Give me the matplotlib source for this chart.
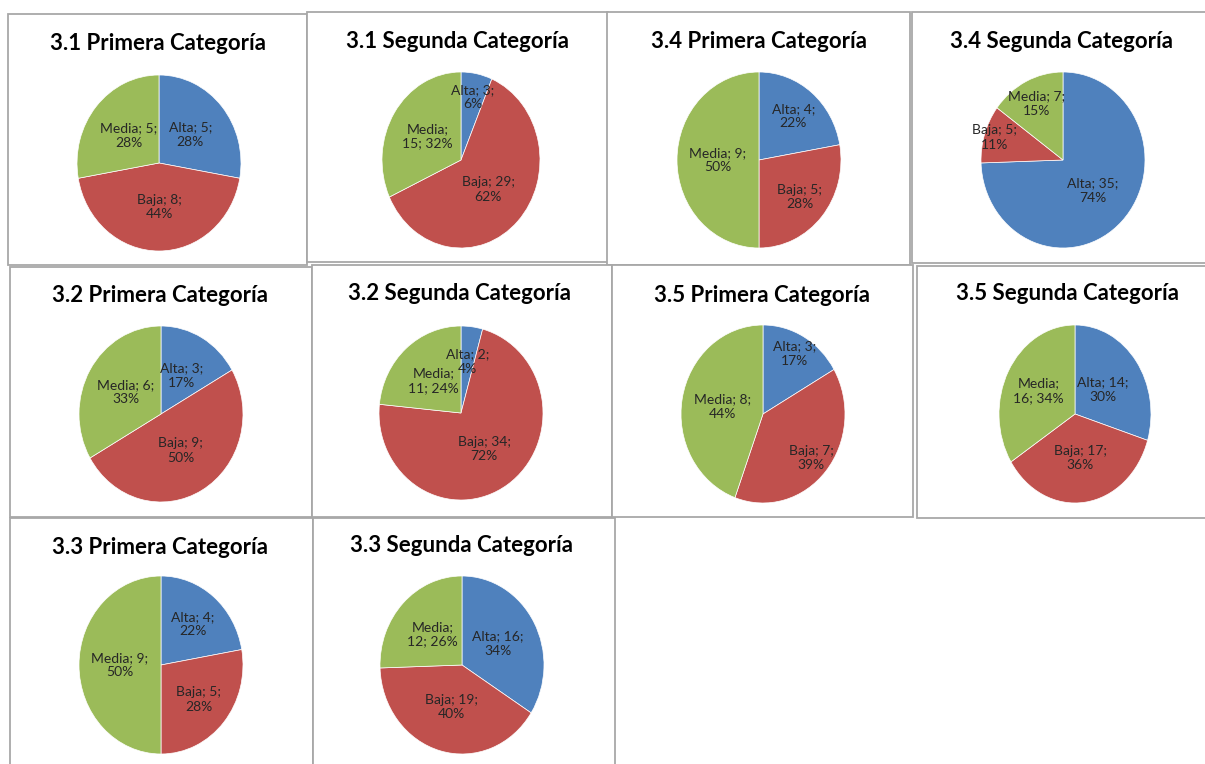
import numpy as np
import matplotlib
matplotlib.use('Agg')
from matplotlib import pyplot as plt
from matplotlib.patches import Rectangle

plt.rcParams['font.family'] = ['Lato', 'DejaVu Sans']

# --- data -------------------------------------------------------------
titles = ['3.1 Primera Categoría', '3.1 Segunda Categoría',
          '3.4 Primera Categoría', '3.4 Segunda Categoría',
          '3.2 Primera Categoría', '3.2 Segunda Categoría',
          '3.5 Primera Categoría', '3.5 Segunda Categoría',
          '3.3 Primera Categoría', '3.3 Segunda Categoría']
niveles = ['Alta', 'Baja', 'Media']
conteos = [[5, 8, 5], [3, 29, 15],
           [4, 5, 9], [35, 5, 7],
           [3, 9, 6], [2, 34, 11],
           [3, 7, 8], [14, 17, 16],
           [4, 5, 9], [16, 19, 12]]
porcentajes = [[28, 44, 28], [6, 62, 32],
               [22, 28, 50], [74, 11, 15],
               [17, 50, 33], [4, 72, 24],
               [17, 39, 44], [30, 36, 34],
               [22, 28, 50], [34, 40, 26]]

# --- layout (pixels, origin top-left) -----------------------------------
W, H = 1205, 764
cajas = [(8, 14, 307, 265), (307, 12, 608, 262), (607, 12, 910, 265), (912, 12, 1212, 263),
         (10, 267, 312, 517), (312, 265, 612, 517), (612, 265, 913, 517), (917, 266, 1212, 518),
         (10, 518, 313, 772), (313, 518, 615, 772)]
tortas = [(159, 163, 82, 88), (461, 160, 79, 88), (759, 160, 82, 88), (1063, 160, 82, 88),
          (161, 414, 82, 88), (461, 413, 82, 87), (763, 414, 82, 89), (1075, 414, 76, 89),
          (161, 665, 82, 89), (462, 665, 82, 89)]
pos_titulo = [(158, 44), (457, 41), (759, 41), (1061, 42),
              (160, 296), (460, 294), (762, 295), (1067, 293),
              (160, 547), (462, 545)]
# radial position of each data label (fraction of the radius)
radio_etiqueta = [(0.5, 0.5, 0.48), (0.73, 0.48, 0.5), (0.65, 0.65, 0.5), (0.5, 0.87, 0.72),
                  (0.5, 0.48, 0.5), (0.6, 0.5, 0.5), (0.78, 0.77, 0.5), (0.46, 0.5, 0.55),
                  (0.6, 0.6, 0.5), (0.5, 0.49, 0.5)]
colores = ['#4F81BD', '#C0504D', '#9BBB59']


def etiqueta(nombre, n, p):
    if nombre == 'Media' and n >= 10:
        return '%s;\n%d; %d%%' % (nombre, n, p)
    return '%s; %d;\n%d%%' % (nombre, n, p)


fig = plt.figure(figsize=(W / 100, H / 100), dpi=100)
fig.patch.set_facecolor('white')

fondo = fig.add_axes([0, 0, 1, 1])
fondo.set_xlim(0, W)
fondo.set_ylim(H, 0)
fondo.axis('off')

for i, titulo in enumerate(titles):
    x0, y0, x1, y1 = cajas[i]
    fondo.add_patch(Rectangle((x0, y0), x1 - x0, y1 - y0, facecolor='white',
                              edgecolor='#a8a8a8', lw=1.3))
    tx, ty = pos_titulo[i]
    fondo.text(tx, ty, titulo, ha='center', va='center', fontsize=16,
               fontweight='bold', color='black')

    cx, cy, rx, ry = tortas[i]
    ax = fig.add_axes([(cx - rx) / W, 1 - (cy + ry) / H, 2 * rx / W, 2 * ry / H])
    wedges, _ = ax.pie(conteos[i], colors=colores, startangle=90, counterclock=False,
                       radius=1, wedgeprops=dict(edgecolor='white', linewidth=0.5))
    ax.set_aspect('auto')
    ax.set_xlim(-1, 1)
    ax.set_ylim(-1, 1)
    ax.axis('off')
    for j, w in enumerate(wedges):
        ang = np.deg2rad((w.theta1 + w.theta2) / 2)
        r = radio_etiqueta[i][j]
        ax.text(r * np.cos(ang), r * np.sin(ang),
                etiqueta(niveles[j], conteos[i][j], porcentajes[i][j]),
                ha='center', va='center', fontsize=10, color='#262626', linespacing=1.25)

fig.savefig('out.png', dpi=100, facecolor='white')
